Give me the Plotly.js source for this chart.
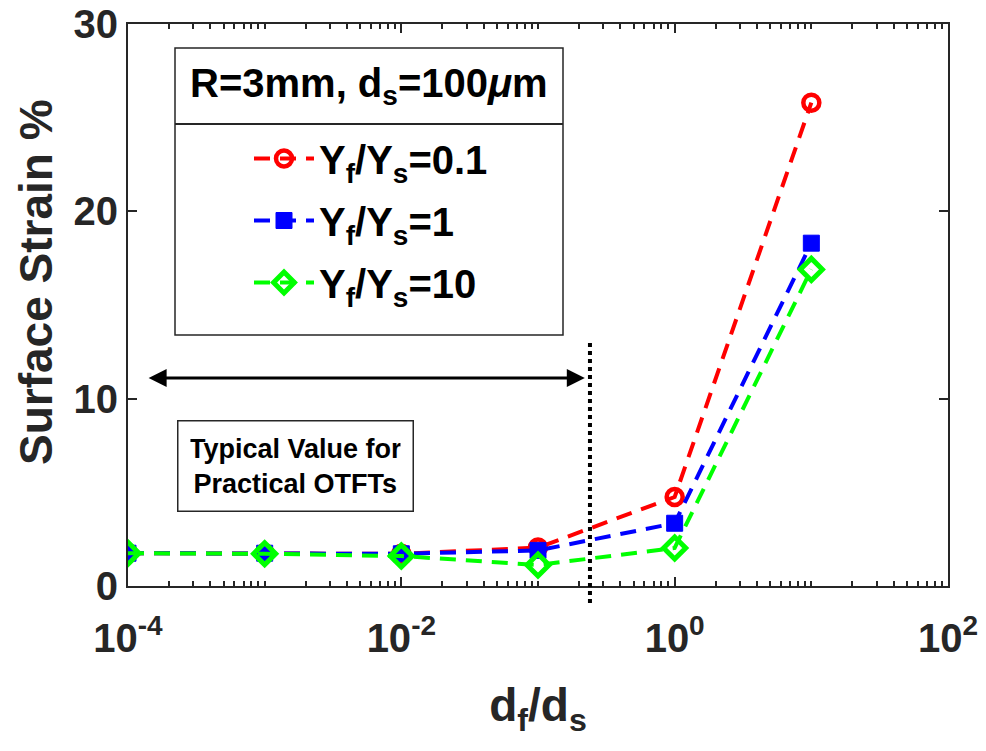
<!DOCTYPE html>
<html><head><meta charset="utf-8">
<script src="https://cdn.plot.ly/plotly-3.0.1.min.js"></script>
<style>html,body{margin:0;padding:0;background:#fff}</style>
</head><body>
<div id="chart" style="width:986px;height:751px"></div>
<script>
// Data
const ratios = [1e-4, 1e-3, 1e-2, 1e-1, 1, 10];           // d_f/d_s
const strainY01 = [1.75, 1.75, 1.72, 2.05, 4.75, 25.8];   // Y_f/Y_s = 0.1
const strainY1  = [1.75, 1.75, 1.72, 1.9, 3.35, 18.3];    // Y_f/Y_s = 1
const strainY10 = [1.75, 1.72, 1.6, 1.12, 2.03, 16.9];    // Y_f/Y_s = 10
const seriesNames = ['Y<sub>f</sub>/Y<sub>s</sub>=0.1', 'Y<sub>f</sub>/Y<sub>s</sub>=1', 'Y<sub>f</sub>/Y<sub>s</sub>=10'];
const xTickVals = [1e-4, 1e-2, 1, 1e2];
const xTickText = ['10<sup>-4</sup>', '10<sup>-2</sup>', '10<sup>0</sup>', '10<sup>2</sup>'];
const yTickVals = [0, 10, 20, 30];
const yTitle = 'Surface Strain %';
const xTitle = 'd<sub>f</sub>/d<sub>s</sub>';
const legendTitle = 'R=3mm, d<sub>s</sub>=100<i>μ</i>m';
const boxText = 'Typical Value for<br>Practical OTFTs';
const thresholdX = 0.24;

const FONT = 'Liberation Sans, Arial, sans-serif';
const dash = '16px,10px';

// minor tick positions for log axis
const minorVals = [];
for (let e = -4; e < 2; e++) for (let k = 1; k <= 9; k++) { const v = k * Math.pow(10, e); if (!xTickVals.includes(v)) minorVals.push(v); }

const traces = [
  {x: ratios, y: strainY01, name: seriesNames[0], mode: 'lines+markers', legendgroup: 'a',
   line: {color: '#ff0000', width: 4, dash: dash},
   marker: {symbol: 'circle-open', size: 16, color: '#ff0000', line: {width: 4.5, color: '#ff0000'}}},
  {x: ratios, y: strainY1, name: seriesNames[1], mode: 'lines+markers', legendgroup: 'b',
   line: {color: '#0000ff', width: 4, dash: dash},
   marker: {symbol: 'square', size: 16, color: '#0000ff', line: {width: 1, color: '#0000ff'}}},
  {x: ratios, y: strainY10, name: seriesNames[2], mode: 'lines+markers', legendgroup: 'c',
   line: {color: '#00ff00', width: 4, dash: dash},
   marker: {symbol: 'diamond-open', size: 17, color: '#00ff00', line: {width: 5, color: '#00ff00'}}}
];

const L = 128, R = 948, T = 24, B = 586, W = 986, H = 751;
const px = v => (v - L) / (R - L);
const py = v => (B - v) / (B - T);

const layout = {
  width: W, height: H,
  margin: {l: L, r: W - R, t: T, b: H - B},
  paper_bgcolor: '#fff', plot_bgcolor: '#fff',
  font: {family: FONT, color: '#262626'},
  showlegend: true,
  legend: {
    x: px(249), y: py(126), xanchor: 'left', yanchor: 'top',
    bgcolor: 'rgba(0,0,0,0)', borderwidth: 0,
    font: {family: FONT, size: 40, color: '#000', weight: 'bold'},
    traceorder: 'grouped', tracegroupgap: 7,
    itemwidth: 60
  },
  xaxis: {
    type: 'log', range: [-4, 2],
    tickvals: xTickVals, ticktext: xTickText,
    ticks: 'inside', ticklen: 9, tickwidth: 2, tickcolor: '#262626',
    minor: {tickvals: minorVals, ticks: 'inside', ticklen: 5, tickwidth: 2, tickcolor: '#262626'},
    showline: true, linewidth: 2, linecolor: '#262626', mirror: 'allticks',
    showgrid: false, zeroline: false,
    ticklabelstandoff: 16,
    tickfont: {family: FONT, size: 40, color: '#262626', weight: 'bold'},
    title: {text: xTitle, font: {family: FONT, size: 46, color: '#262626', weight: 'bold'}, standoff: 30}
  },
  yaxis: {
    range: [0, 30], tickvals: yTickVals,
    ticks: 'inside', ticklen: 9, tickwidth: 2, tickcolor: '#262626',
    showline: true, linewidth: 2, linecolor: '#262626', mirror: 'allticks',
    showgrid: false, zeroline: false,
    tickfont: {family: FONT, size: 40, color: '#262626', weight: 'bold'}
  },
  shapes: [
    // legend box
    {type: 'rect', xref: 'paper', yref: 'paper', x0: px(175), x1: px(563), y0: py(335), y1: py(48),
     line: {color: '#262626', width: 1.5}, fillcolor: '#fff', layer: 'below'},
    {type: 'line', xref: 'paper', yref: 'paper', x0: px(175), x1: px(563), y0: py(124), y1: py(124),
     line: {color: '#262626', width: 2}},
    // threshold dotted line
    {type: 'line', xref: 'x', yref: 'paper', x0: thresholdX, x1: thresholdX, y0: py(603), y1: py(340),
     line: {color: '#000', width: 4, dash: 'dot'}}
  ],
  annotations: [
    {xref: 'paper', yref: 'paper', x: px(36), y: py(282), xanchor: 'center', yanchor: 'middle',
     text: yTitle, textangle: -90, showarrow: false,
     font: {family: FONT, size: 46, color: '#262626', weight: 'bold'}},
    {xref: 'paper', yref: 'paper', x: px(369), y: py(86), xanchor: 'center', yanchor: 'middle',
     text: legendTitle, showarrow: false,
     font: {family: FONT, size: 40, color: '#000', weight: 'bold'}},
    {xref: 'paper', yref: 'paper', x: px(295), y: py(466), xanchor: 'center', yanchor: 'middle',
     text: boxText, showarrow: false,
     font: {family: FONT, size: 27, color: '#000', weight: 'bold'}, align: 'center',
     bordercolor: '#262626', borderwidth: 1.5, borderpad: 12, bgcolor: '#fff', width: 210},
    {xref: 'x', yref: 'y', x: Math.log10(0.22), y: 11.1, axref: 'x', ayref: 'y', ax: -3.86, ay: 11.1,
     text: '', showarrow: true, arrowhead: 2, startarrowhead: 2, arrowside: 'end+start',
     arrowsize: 1.2, arrowwidth: 3, arrowcolor: '#000'}
  ]
};

Plotly.newPlot('chart', traces, layout, {displayModeBar: false, staticPlot: true});
</script>
</body></html>
